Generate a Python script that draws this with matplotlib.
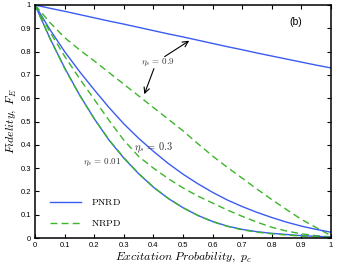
import matplotlib
matplotlib.use("Agg")
import matplotlib.pyplot as plt

plt.rcParams['mathtext.fontset'] = 'cm'
plt.rcParams['font.family'] = ['Liberation Sans', 'DejaVu Sans']

p = [0.0, 0.05, 0.1, 0.15, 0.2, 0.25, 0.3, 0.35, 0.4, 0.45, 0.5,
     0.55, 0.6, 0.65, 0.7, 0.75, 0.8, 0.85, 0.9, 0.95, 1.0]

pnrd_09 = [1.0, 0.986, 0.973, 0.959, 0.945, 0.931, 0.918, 0.904, 0.890, 0.876, 0.863,
           0.849, 0.835, 0.821, 0.808, 0.794, 0.781, 0.768, 0.755, 0.742, 0.730]
nrpd_09 = [1.0, 0.925, 0.860, 0.808, 0.760, 0.710, 0.660, 0.610, 0.560, 0.510, 0.460,
           0.405, 0.352, 0.303, 0.257, 0.210, 0.165, 0.122, 0.080, 0.045, 0.010]
pnrd_03 = [1.0, 0.895, 0.800, 0.715, 0.636, 0.560, 0.490, 0.428, 0.372, 0.320, 0.274,
           0.233, 0.196, 0.163, 0.135, 0.110, 0.088, 0.068, 0.051, 0.037, 0.025]
nrpd_03 = [1.0, 0.885, 0.780, 0.685, 0.595, 0.505, 0.420, 0.350, 0.300, 0.255, 0.215,
           0.180, 0.150, 0.120, 0.093, 0.068, 0.046, 0.030, 0.018, 0.010, 0.005]
pnrd_001 = [1.0, 0.858, 0.730, 0.615, 0.512, 0.420, 0.343, 0.276, 0.218, 0.170, 0.130,
            0.097, 0.071, 0.051, 0.037, 0.027, 0.020, 0.015, 0.010, 0.007, 0.005]
nrpd_001 = [1.0, 0.857, 0.728, 0.614, 0.512, 0.421, 0.345, 0.277, 0.219, 0.170, 0.130,
            0.097, 0.070, 0.050, 0.035, 0.025, 0.018, 0.013, 0.008, 0.005, 0.003]

xticks = [0, 0.1, 0.2, 0.3, 0.4, 0.5, 0.6, 0.7, 0.8, 0.9, 1]
yticks = [0, 0.1, 0.2, 0.3, 0.4, 0.5, 0.6, 0.7, 0.8, 0.9, 1]
xtick_labels = ['0', '0.1', '0.2', '0.3', '0.4', '0.5', '0.6', '0.7', '0.8', '0.9', '1']
ytick_labels = ['0', '0.1', '0.2', '0.3', '0.4', '0.5', '0.6', '0.7', '0.8', '0.9', '1']

blue = '#3a5cf2'
green = '#3cb52a'
dash = (0, (5, 3))

fig = plt.figure(figsize=(3.37, 2.70), dpi=100)
ax = fig.add_axes([0.104, 0.1185, 0.878, 0.863])

ax.plot(p, pnrd_09, color=blue, lw=1.0, label=r'$\mathrm{PNRD}$')
ax.plot(p, nrpd_09, color=green, lw=1.0, ls=dash, label=r'$\mathrm{NRPD}$')
ax.plot(p, pnrd_03, color=blue, lw=1.0)
ax.plot(p, nrpd_03, color=green, lw=1.0, ls=dash)
ax.plot(p, pnrd_001, color=blue, lw=1.0)
ax.plot(p, nrpd_001, color=green, lw=1.0, ls=dash)

ax.set_xlim(0, 1)
ax.set_ylim(0, 1)
ax.set_xticks(xticks)
ax.set_xticklabels(xtick_labels)
ax.set_yticks(yticks)
ax.set_yticklabels(ytick_labels)
ax.tick_params(direction='in', top=True, right=True, labelsize=5.5, length=3, width=0.8, pad=3)
for s in ax.spines.values():
    s.set_linewidth(1.1)

ax.set_xlabel(r'$Excitation\ Probability,\ p_c$', fontsize=8.5, labelpad=1)
ax.set_ylabel(r'$Fidelity,\ F_E$', fontsize=8.5, labelpad=2)

ax.text(0.88, 0.925, '(b)', fontsize=7.5, ha='center', va='center')

ax.text(0.415, 0.755, r'$\eta_s\,=\,0.9$', fontsize=6.5, ha='center', va='center', color='#333333')
ax.annotate('', xy=(0.529, 0.853), xytext=(0.43, 0.772),
            arrowprops=dict(arrowstyle='->', color='black', lw=0.8))
ax.annotate('', xy=(0.366, 0.606), xytext=(0.405, 0.738),
            arrowprops=dict(arrowstyle='->', color='black', lw=0.8))
ax.text(0.40, 0.386, r'$\eta_s\,=\,0.3$', fontsize=7.5, ha='center', va='center', color='#333333')
ax.text(0.227, 0.326, r'$\eta_s\,=\,0.01$', fontsize=6.5, ha='center', va='center', color='#333333')

leg = ax.legend(loc='lower left', bbox_to_anchor=(0.02, 0.005), frameon=False, fontsize=7,
                handlelength=3.2, labelspacing=1.1, handletextpad=1.0)

fig.savefig('out.png', dpi=100)
